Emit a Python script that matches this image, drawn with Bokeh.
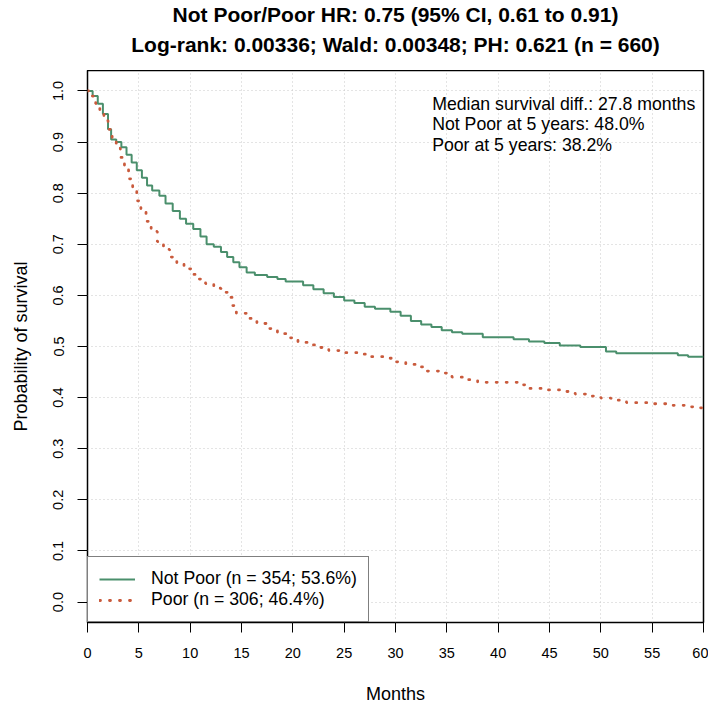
from bokeh.plotting import figure
from bokeh.layouts import column
from bokeh.models import (Range1d, FixedTicker, NumeralTickFormatter, Legend, LegendItem,
                          ColumnDataSource)
from bokeh.core.properties import value
from bokeh.embed import file_html
from bokeh.resources import INLINE

# ---- data ----
not_poor_time = [0, 0.5, 1.0, 1.5, 2.0, 2.3, 2.8, 3.3, 3.8, 4.3, 4.8, 5.3, 5.8, 6.3, 7.0, 7.6,
                 8.3, 9.0, 9.6, 10.3, 11.0, 11.6, 12.3, 13.0, 13.6, 14.2, 14.8, 15.5, 16.3,
                 17.5, 18.5, 19.3, 21.0, 22.0, 23.0, 24.0, 25.0, 26.0, 27.0, 28.0, 29.5, 30.5,
                 31.5, 32.5, 33.5, 34.5, 35.5, 36.5, 38.5, 41.5, 43.0, 44.5, 46.0, 48.0, 50.5,
                 51.5, 57.5, 58.5, 60.0]
not_poor_surv = [1.0, 0.99, 0.975, 0.955, 0.925, 0.905, 0.9, 0.89, 0.875, 0.86, 0.845, 0.83,
                 0.815, 0.805, 0.795, 0.78, 0.765, 0.75, 0.74, 0.73, 0.715, 0.70, 0.695, 0.685,
                 0.675, 0.665, 0.655, 0.645, 0.64, 0.636, 0.632, 0.627, 0.62, 0.612, 0.604,
                 0.597, 0.59, 0.585, 0.578, 0.574, 0.568, 0.56, 0.55, 0.543, 0.538, 0.532,
                 0.528, 0.525, 0.518, 0.514, 0.51, 0.507, 0.502, 0.499, 0.49, 0.487, 0.483,
                 0.48, 0.48]

poor_time = [0, 0.4, 0.8, 1.2, 1.6, 2.0, 2.4, 2.8, 3.2, 3.6, 4.0, 4.4, 4.8, 5.2, 5.7, 6.2,
             6.8, 7.4, 8.0, 8.7, 9.4, 10.1, 10.8, 11.5, 12.3, 13.0, 13.6, 14.1, 14.5, 15.5,
             16.5, 17.5, 18.5, 19.5, 20.5, 21.5, 22.5, 23.5, 25.0, 26.5, 27.5, 29.0, 30.0,
             31.0, 32.0, 33.0, 34.5, 35.5, 37.0, 38.0, 42.0, 43.0, 44.5, 46.0, 47.5, 48.5,
             50.0, 51.0, 52.5, 55.0, 57.0, 58.5, 59.5, 60.0]
poor_surv = [1.0, 0.99, 0.975, 0.958, 0.942, 0.925, 0.905, 0.888, 0.87, 0.85, 0.828, 0.806,
             0.785, 0.765, 0.745, 0.725, 0.705, 0.69, 0.675, 0.663, 0.652, 0.641, 0.632,
             0.623, 0.614, 0.606, 0.596, 0.58, 0.565, 0.555, 0.545, 0.535, 0.525, 0.517,
             0.508, 0.503, 0.498, 0.492, 0.488, 0.485, 0.48, 0.477, 0.47, 0.465, 0.46,
             0.452, 0.448, 0.44, 0.435, 0.43, 0.425, 0.418, 0.415, 0.412, 0.407, 0.403,
             0.399, 0.395, 0.39, 0.388, 0.385, 0.382, 0.38, 0.38]

x_ticks = [0, 5, 10, 15, 20, 25, 30, 35, 40, 45, 50, 55, 60]
y_ticks = [0.0, 0.1, 0.2, 0.3, 0.4, 0.5, 0.6, 0.7, 0.8, 0.9, 1.0]

title_lines = ["Not Poor/Poor HR: 0.75 (95% CI, 0.61 to 0.91)",
               "Log-rank: 0.00336; Wald: 0.00348; PH: 0.621 (n = 660)"]
legend_labels = ["Not Poor (n = 354; 53.6%)", "Poor (n = 306; 46.4%)"]
info_lines = ["Median survival diff.: 27.8 months",
              "Not Poor at 5 years: 48.0%",
              "Poor at 5 years: 38.2%"]

FONT = "Liberation Sans"
GREEN = "#4a8f6c"
RED = "#c95a3c"
W = 708
TITLE_H = 70

# ---- title strip (a figure without axes, sharing the main frame's horizontal extent) ----
tp = figure(width=W, height=TITLE_H, output_backend="svg", toolbar_location=None,
            x_range=Range1d(0, 60), y_range=Range1d(0, TITLE_H),
            x_axis_type=None, y_axis_type=None,
            min_border_left=87, min_border_right=5, min_border_top=0, min_border_bottom=0)
tp.outline_line_color = None
tp.grid.visible = False
title_src = ColumnDataSource(dict(x=[30, 30], y=[TITLE_H - 14, TITLE_H - 44], text=title_lines))
tp.text("x", "y", text="text", source=title_src, text_font=value(FONT),
        text_font_size="21px", text_font_style="bold", text_align="center",
        text_baseline="middle", text_color="black")

# ---- main survival plot ----
p = figure(width=W, height=640, output_backend="svg", toolbar_location=None,
           x_range=Range1d(0, 60), y_range=Range1d(-0.04, 1.04),
           min_border_left=87, min_border_right=5, min_border_top=0, min_border_bottom=88)
p.background_fill_color = "white"
p.border_fill_color = "white"
p.outline_line_color = "black"
p.outline_line_width = 1.5

for ax in (p.xaxis[0], p.yaxis[0]):
    ax.axis_line_color = None
    ax.major_tick_line_color = "black"
    ax.major_tick_out = 10
    ax.major_tick_in = 0
    ax.minor_tick_line_color = None
    ax.major_label_text_font = FONT
    ax.major_label_text_font_size = "14.5px"
    ax.major_label_text_color = "black"
    ax.axis_label_text_font = FONT
    ax.axis_label_text_font_size = "18px"
    ax.axis_label_text_font_style = "normal"
    ax.axis_label_text_color = "black"

p.xaxis.ticker = FixedTicker(ticks=x_ticks)
p.yaxis.ticker = FixedTicker(ticks=y_ticks)
p.yaxis.formatter = NumeralTickFormatter(format="0.0")
p.yaxis.major_label_orientation = "vertical"
p.xaxis.axis_label = "Months"
p.yaxis.axis_label = "Probability of survival"
p.xaxis.major_label_standoff = 15
p.yaxis.major_label_standoff = 14
p.xaxis.axis_label_standoff = 23
p.yaxis.axis_label_standoff = 20

p.xgrid.ticker = FixedTicker(ticks=x_ticks)
p.ygrid.ticker = FixedTicker(ticks=y_ticks)
for g in (p.xgrid[0], p.ygrid[0]):
    g.grid_line_color = "#c8c8c8"
    g.grid_line_dash = "1 3"
    g.grid_line_width = 1

src_np = ColumnDataSource(dict(t=not_poor_time, s=not_poor_surv))
src_p = ColumnDataSource(dict(t=poor_time, s=poor_surv))
r_np = p.step("t", "s", source=src_np, mode="after", line_color=GREEN, line_width=2)
r_p = p.step("t", "s", source=src_p, mode="after", line_color=RED, line_width=2.8,
             line_dash="1 9", line_cap="round")

info_src = ColumnDataSource(dict(x=[33.57] * 3, y=[0.9736, 0.9345, 0.8934], text=info_lines))
p.text("x", "y", text="text", source=info_src, text_font=value(FONT),
       text_font_size="17.7px", text_align="left", text_baseline="middle", text_color="black")

legend = Legend(items=[LegendItem(label=legend_labels[0], renderers=[r_np]),
                       LegendItem(label=legend_labels[1], renderers=[r_p])],
                location=(0, 0), orientation="vertical")
legend.label_text_font = FONT
legend.label_text_font_size = "17.7px"
legend.label_text_color = "black"
legend.label_height = 20
legend.glyph_height = 20
legend.glyph_width = 36
legend.label_standoff = 16
legend.spacing = 0
legend.padding = 11
legend.margin = 0
legend.border_line_color = "black"
legend.border_line_width = 1.2
legend.background_fill_color = "white"
legend.background_fill_alpha = 1
p.add_layout(legend, "center")

layout = column(tp, p, spacing=0)
open("out.html", "w").write(file_html(layout, INLINE))
